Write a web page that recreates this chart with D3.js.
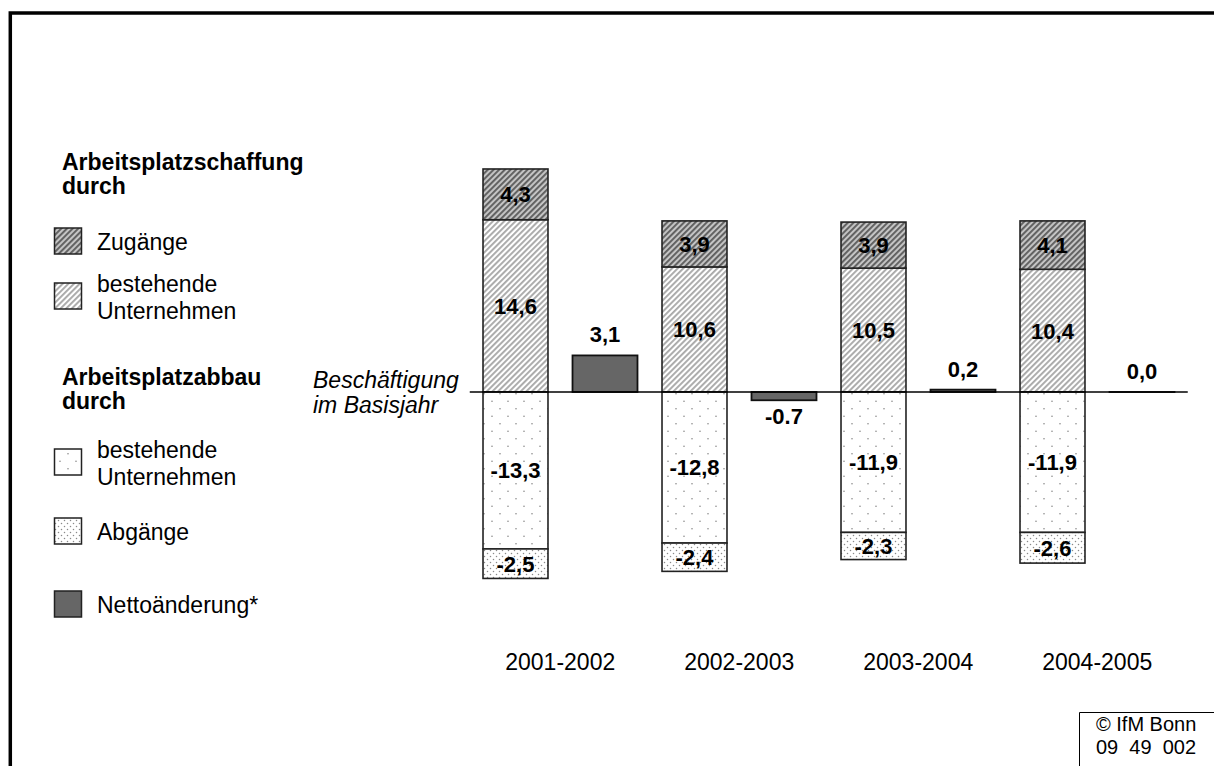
<!DOCTYPE html>
<html>
<head>
<meta charset="utf-8">
<script src="https://cdn.jsdelivr.net/npm/d3@7"></script>
<style>
  body { margin: 0; background: #fff; }
  text { font-family: Arial, "Liberation Sans", sans-serif; }
</style>
</head>
<body>
<script>
// data
var periods = ['2001-2002', '2002-2003', '2003-2004', '2004-2005'];
var zugaenge = [4.3, 3.9, 3.9, 4.1];
var bestehendPlus = [14.6, 10.6, 10.5, 10.4];
var bestehendMinus = [-13.3, -12.8, -11.9, -11.9];
var abgaenge = [-2.5, -2.4, -2.3, -2.6];
var netto = [3.1, -0.7, 0.2, 0.0];

var de = d3.formatLocale({decimal: ',', thousands: '.', grouping: [3], currency: ['', ' €'], minus: '-'});
var en = d3.formatLocale({decimal: '.', thousands: ',', grouping: [3], currency: ['', ''], minus: '-'});
var fmt = de.format('.1f');
// the original shows the negative net value with a point
var fmtNet = function(v){ return v < 0 ? en.format('.1f')(v) : fmt(v); };

var svg = d3.select('body').append('svg')
            .attr('width', 1214)
            .attr('height', 766);

// patterns
var defs = svg.append('defs');

function stripes(id, bg, fg){
  var p = defs.append('pattern').attr('id', id)
      .attr('patternUnits', 'userSpaceOnUse')
      .attr('width', 4).attr('height', 4)
      .attr('patternTransform', 'rotate(45)');
  p.append('rect').attr('width', 4).attr('height', 4).attr('fill', bg);
  p.append('rect').attr('width', 1.9).attr('height', 4).attr('fill', fg);
}
function dots(id, w, h, r, col){
  var p = defs.append('pattern').attr('id', id)
      .attr('patternUnits', 'userSpaceOnUse')
      .attr('width', w).attr('height', h);
  p.append('rect').attr('width', w).attr('height', h).attr('fill', '#fff');
  p.append('circle').attr('cx', w / 4).attr('cy', h / 4).attr('r', r).attr('fill', col);
  p.append('circle').attr('cx', 3 * w / 4).attr('cy', 3 * h / 4).attr('r', r).attr('fill', col);
}
stripes('pZug', '#c4c4c4', '#5e5e5e');
stripes('pBestP', '#ffffff', '#a9a9a9');
dots('pBestM', 16, 15, 0.8, '#8a8a8a');
dots('pAbg', 6, 6, 0.75, '#8a8a8a');

// frame
svg.append('path')
   .attr('d', 'M10.3,780 L10.3,13 L1230,13')
   .attr('fill', 'none').attr('stroke', '#000').attr('stroke-width', 3.5);

// scales
var x = d3.scaleBand().domain(periods).range([470.75, 1186.75]).paddingInner(0).paddingOuter(0);
var xIn = d3.scaleBand().domain(['stack', 'net']).range([0, x.bandwidth()])
            .paddingInner(0.274).paddingOuter(0.137);
var y = d3.scaleLinear().domain([-20, 20]).range([628, 156]);

var barStroke = '#222';

// build stacked segments
var segs = [];
periods.forEach(function(p, i){
  segs.push({p: p, y0: 0, y1: bestehendPlus[i], v: bestehendPlus[i], fill: 'url(#pBestP)'});
  segs.push({p: p, y0: bestehendPlus[i], y1: bestehendPlus[i] + zugaenge[i], v: zugaenge[i], fill: 'url(#pZug)'});
  segs.push({p: p, y0: 0, y1: bestehendMinus[i], v: bestehendMinus[i], fill: 'url(#pBestM)'});
  segs.push({p: p, y0: bestehendMinus[i], y1: bestehendMinus[i] + abgaenge[i], v: abgaenge[i], fill: 'url(#pAbg)'});
});

svg.selectAll('rect.seg')
   .data(segs)
   .enter().append('rect')
   .attr('class', 'seg')
   .attr('x', function(d){ return x(d.p) + xIn('stack'); })
   .attr('width', xIn.bandwidth())
   .attr('y', function(d){ return y(Math.max(d.y0, d.y1)); })
   .attr('height', function(d){ return Math.abs(y(d.y0) - y(d.y1)); })
   .attr('fill', function(d){ return d.fill; })
   .attr('stroke', barStroke).attr('stroke-width', 1.6);

svg.selectAll('text.seg')
   .data(segs)
   .enter().append('text')
   .attr('class', 'seg')
   .attr('x', function(d){ return x(d.p) + xIn('stack') + xIn.bandwidth() / 2; })
   .attr('y', function(d){ return y((d.y0 + d.y1) / 2); })
   .attr('dy', '0.36em')
   .attr('text-anchor', 'middle')
   .style('font-size', '22px').style('font-weight', 'bold')
   .text(function(d){ return fmt(d.v); });

// net bars
svg.selectAll('rect.net')
   .data(netto)
   .enter().append('rect')
   .attr('class', 'net')
   .attr('x', function(d, i){ return x(periods[i]) + xIn('net'); })
   .attr('width', xIn.bandwidth())
   .attr('y', function(d){ return y(Math.max(0, d)); })
   .attr('height', function(d){ return Math.max(Math.abs(y(d) - y(0)), 0.01); })
   .attr('fill', '#666')
   .attr('stroke', '#111').attr('stroke-width', 1.8);

svg.selectAll('text.net')
   .data(netto)
   .enter().append('text')
   .attr('class', 'net')
   .attr('x', function(d, i){ return x(periods[i]) + xIn('net') + xIn.bandwidth() / 2; })
   .attr('y', function(d){ return d < 0 ? y(d) + 24 : y(d) - 13; })
   .attr('text-anchor', 'middle')
   .style('font-size', '22px').style('font-weight', 'bold')
   .text(function(d){ return fmtNet(d); });

// zero line
svg.append('line')
   .attr('x1', x.range()[0] - 1).attr('x2', x.range()[1] + 1)
   .attr('y1', y(0)).attr('y2', y(0))
   .attr('stroke', '#000').attr('stroke-width', 1.3);

// category axis labels
svg.selectAll('text.cat')
   .data(periods)
   .enter().append('text')
   .attr('class', 'cat')
   .attr('x', function(d){ return x(d) + x.bandwidth() / 2; })
   .attr('y', 670)
   .attr('text-anchor', 'middle')
   .style('font-size', '23px')
   .text(function(d){ return d; });

// base year label
var base = svg.append('text').style('font-size', '23px').style('font-style', 'italic');
base.append('tspan').attr('x', 313).attr('y', 388).text('Beschäftigung');
base.append('tspan').attr('x', 313).attr('y', 413).text('im Basisjahr');

// legend
var legendTitles = [
  {lines: ['Arbeitsplatzschaffung', 'durch'], y: 170},
  {lines: ['Arbeitsplatzabbau', 'durch'], y: 385}
];
legendTitles.forEach(function(t){
  t.lines.forEach(function(l, j){
    svg.append('text').attr('x', 62).attr('y', t.y + j * 24)
       .style('font-size', '23px').style('font-weight', 'bold').text(l);
  });
});

var legendItems = [
  {lines: ['Zugänge'], fill: 'url(#pZug)', cy: 241},
  {lines: ['bestehende', 'Unternehmen'], fill: 'url(#pBestP)', cy: 296},
  {lines: ['bestehende', 'Unternehmen'], fill: 'url(#pBestM)', cy: 462},
  {lines: ['Abgänge'], fill: 'url(#pAbg)', cy: 531},
  {lines: ['Nettoänderung*'], fill: '#666', cy: 604}
];
var li = svg.selectAll('g.leg').data(legendItems).enter().append('g').attr('class', 'leg');
li.append('rect')
  .attr('x', 54.5).attr('y', function(d){ return d.cy - 13; })
  .attr('width', 27).attr('height', 26)
  .attr('fill', function(d){ return d.fill; })
  .attr('stroke', '#222').attr('stroke-width', 1.5);
li.each(function(d){
  var g = d3.select(this);
  var n = d.lines.length;
  d.lines.forEach(function(l, j){
    g.append('text').attr('x', 97)
     .attr('y', d.cy + 9 + (j - (n - 1) / 2) * 27)
     .style('font-size', '23px').text(l);
  });
});

// source box
svg.append('path')
   .attr('d', 'M1079.5,780 L1079.5,712.5 L1230,712.5')
   .attr('fill', 'none').attr('stroke', '#000').attr('stroke-width', 1);
svg.append('text').attr('x', 1096).attr('y', 731).style('font-size', '20px').text('© IfM Bonn');
svg.append('text').attr('x', 1096).attr('y', 754).style('font-size', '20px').attr('xml:space', 'preserve').text('09  49  002');
</script>
</body>
</html>
